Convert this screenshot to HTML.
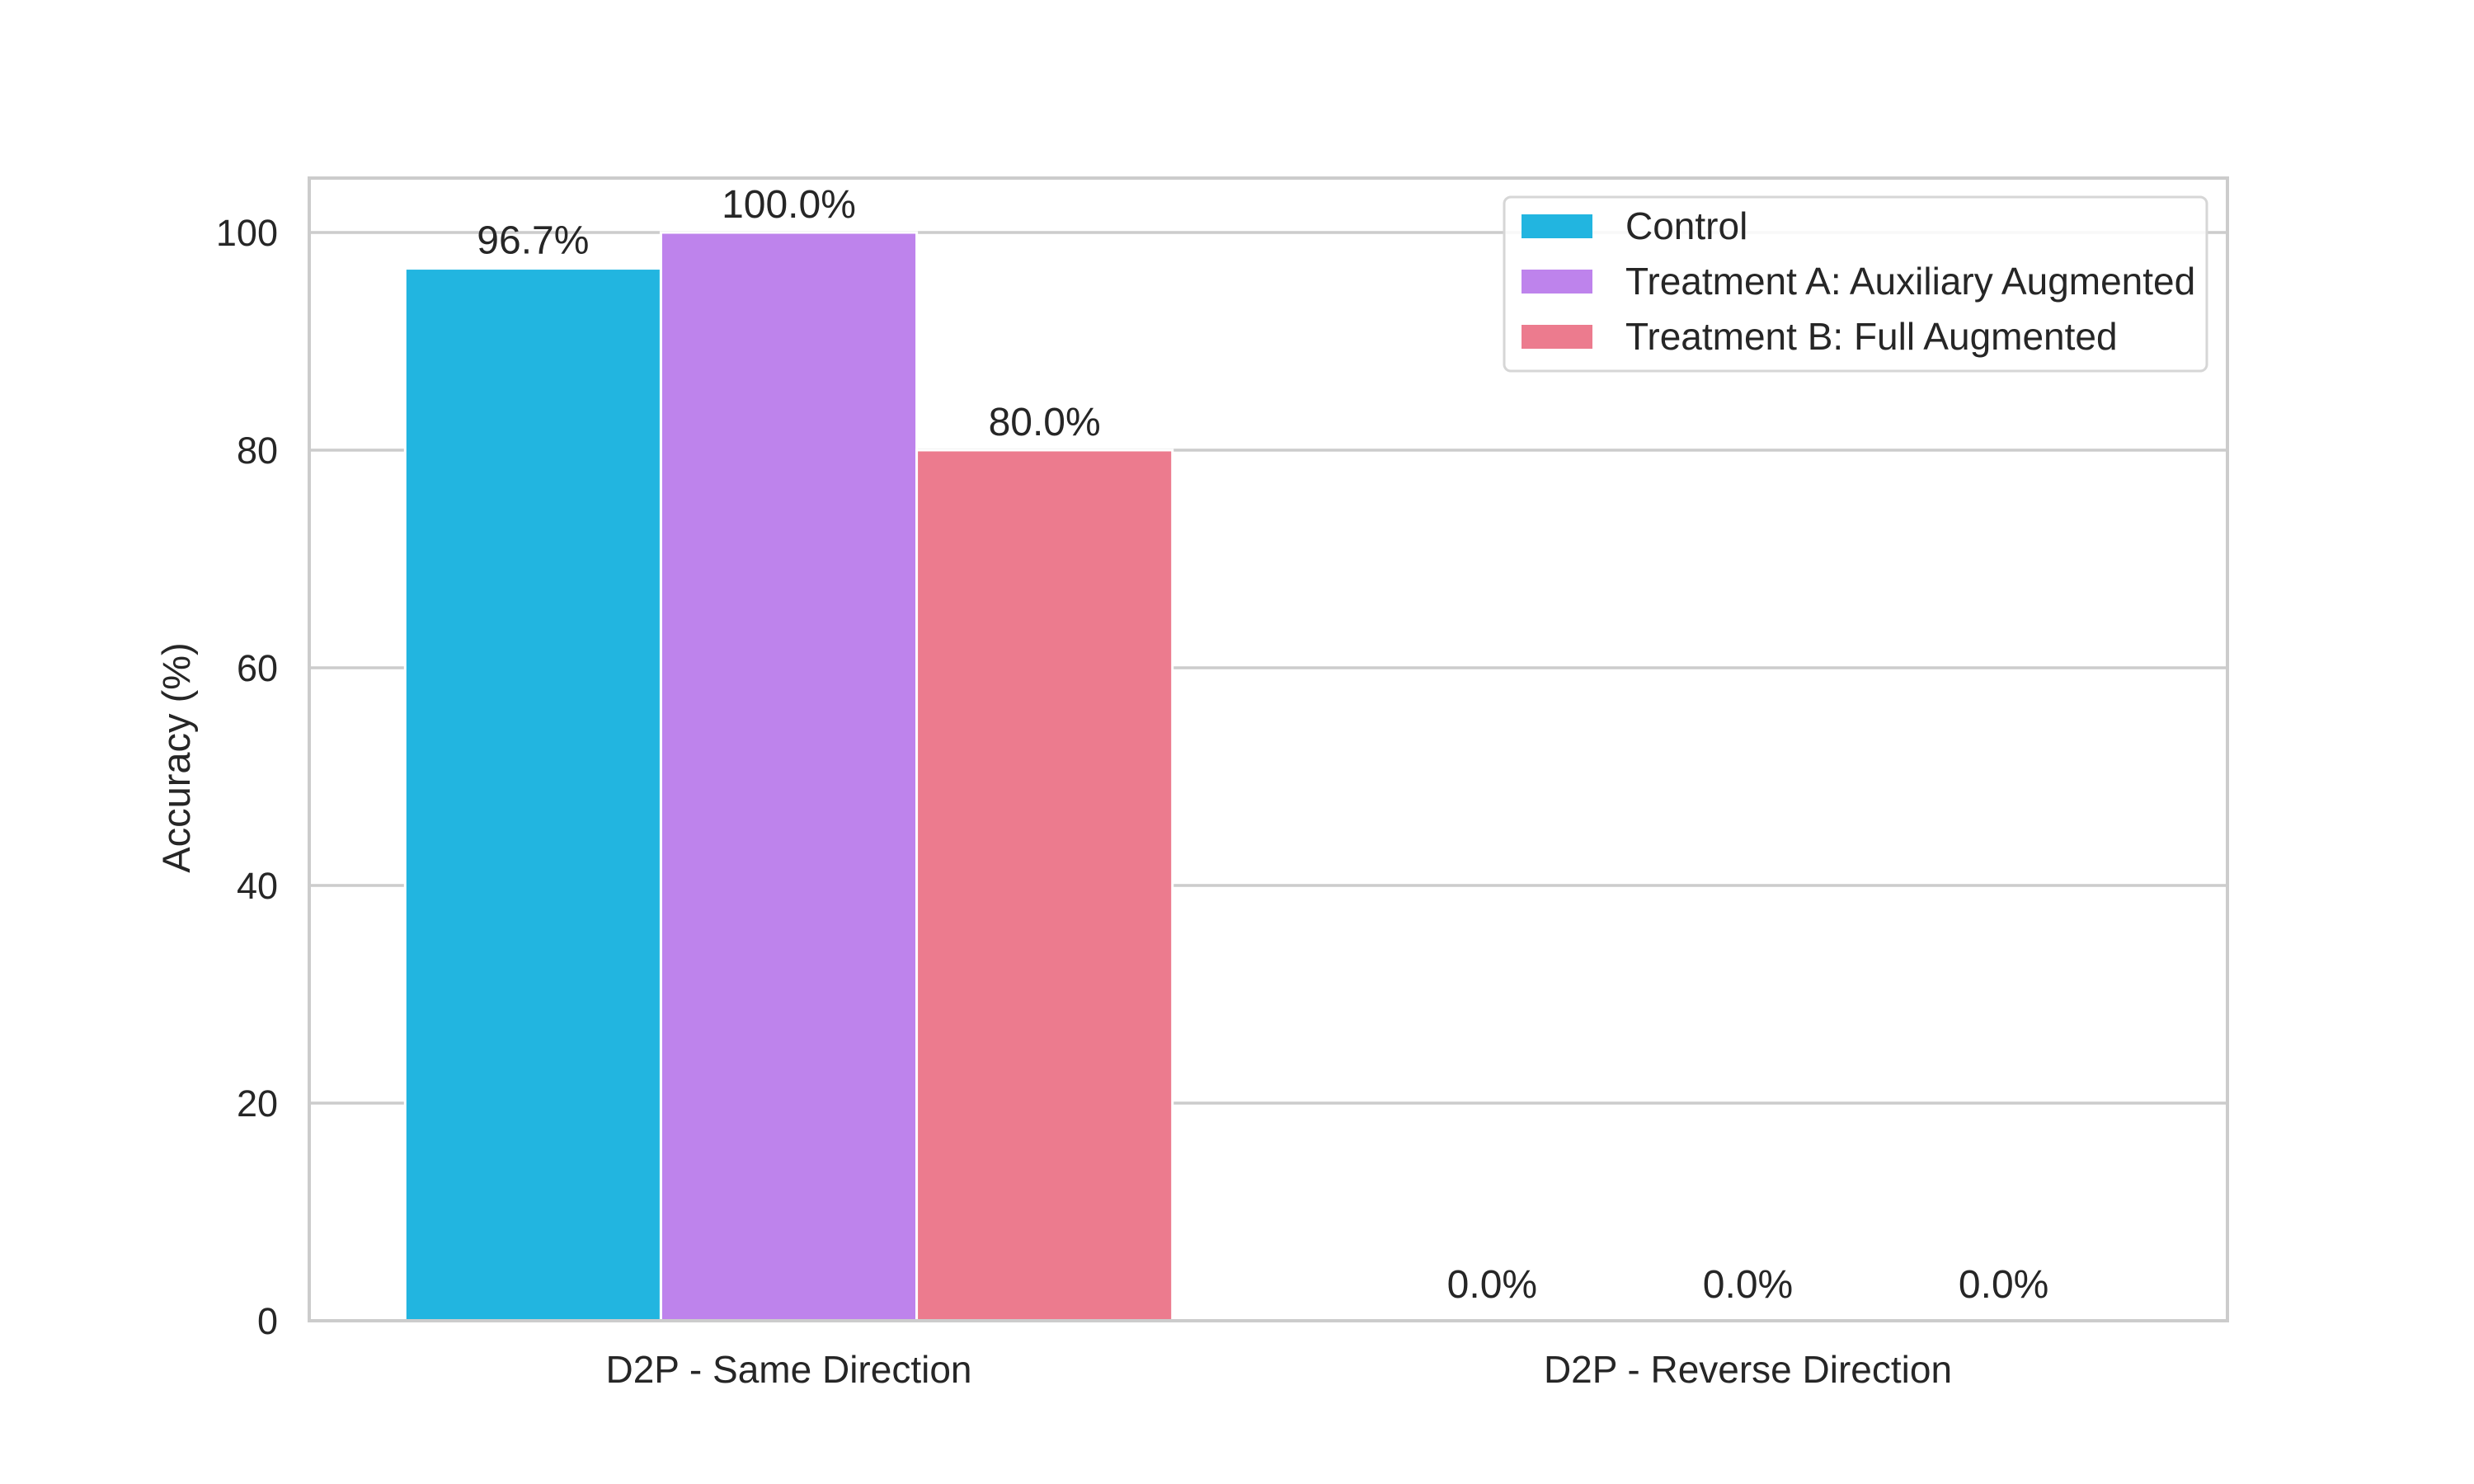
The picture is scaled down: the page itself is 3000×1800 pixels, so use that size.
<!DOCTYPE html>
<html><head><meta charset="utf-8"><style>body{margin:0;background:#fff}svg{display:block}text{font-family:"Liberation Sans",Arial,sans-serif;fill:#262626}</style></head>
<body>
<svg id="c" width="3000" height="1800"></svg>
<script>
const categories=["D2P - Same Direction","D2P - Reverse Direction"];
const seriesNames=["Control","Treatment A: Auxiliary Augmented","Treatment B: Full Augmented"];
const control=[96.7,0.0];
const treatA=[100.0,0.0];
const treatB=[80.0,0.0];
const yTicks=[0,20,40,60,80,100];
const colors=["#22b5e0","#be83ec","#ec7b8e"];
const series=[control,treatA,treatB];
const L=375,R=2701,T=216,B=1602,ymax=105;
const xs=v=>L+(v+0.5)/2*(R-L);
const ys=v=>B-v/ymax*(B-T);
const svg=document.getElementById('c');const NS="http://www.w3.org/2000/svg";
function mk(t,a,p){const e=document.createElementNS(NS,t);for(const k in a)e.setAttribute(k,a[k]);(p||svg).appendChild(e);return e;}
yTicks.forEach(t=>{const g=mk('line',{x1:L,x2:R,y1:ys(t),y2:ys(t),stroke:"#cccccc","stroke-width":3.5});


const tx=mk('text',{x:L-38,y:ys(t)+16,"text-anchor":"end","font-size":45});tx.textContent=t;

});
const bw=0.8/3;
series.forEach((s,i)=>{s.forEach((v,j)=>{const cx=j+(i-1)*bw;
const r=mk('rect',{x:xs(cx-bw/2),y:ys(v),width:xs(bw)-xs(0),height:B-ys(v),fill:colors[i],stroke:"#fff","stroke-width":3});


const lb=mk('text',{x:xs(cx),y:ys(v)-18-(v<=0?10:0),"text-anchor":"middle","font-size":48});lb.textContent=v.toFixed(1)+"%";

});});
categories.forEach((c,j)=>{const t=mk('text',{x:xs(j),y:1677,"text-anchor":"middle","font-size":46});t.textContent=c;

});
const fr=mk('rect',{x:L,y:T,width:R-L,height:B-T,fill:"none",stroke:"#cccccc","stroke-width":4});


const yt=mk('text',{x:0,y:0,"text-anchor":"middle","font-size":47,transform:"translate(230,919) rotate(-90)"});yt.textContent="Accuracy (%)";


const lg=mk('g',{});
mk('rect',{x:1824,y:239,width:852,height:211,rx:8,fill:"#fff","fill-opacity":0.85,stroke:"#d6d6d6","stroke-width":3},lg);
seriesNames.forEach((n,i)=>{const y=274+i*67;
const sw=mk('rect',{x:1845,y:y-14,width:86,height:29,fill:colors[i]},lg);


const t=mk('text',{x:1971,y:y+16,"font-size":46},lg);t.textContent=n;

});
</script>
</body></html>
